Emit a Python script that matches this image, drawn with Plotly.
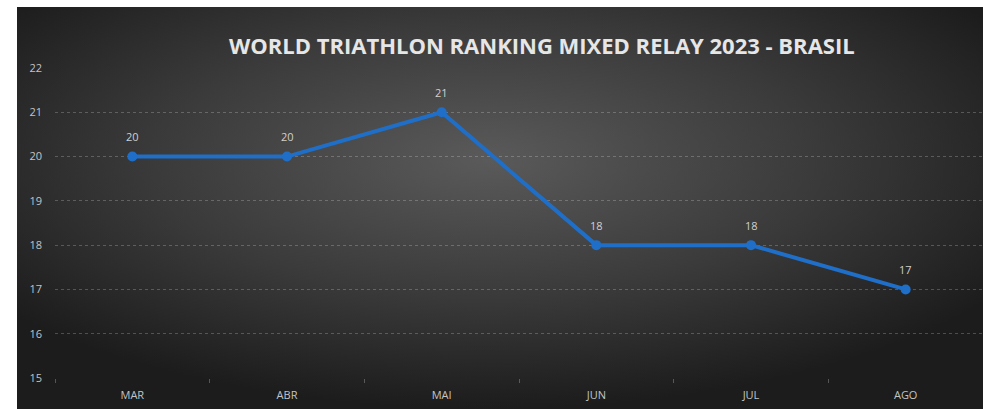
import base64
import plotly.graph_objects as go

months = ["MAR", "ABR", "MAI", "JUN", "JUL", "AGO"]
ranking = [20, 20, 21, 18, 18, 17]
title_text = "WORLD TRIATHLON RANKING MIXED RELAY 2023 - BRASIL"

# dark radial background like the Excel "style" chart
svg = """<svg xmlns='http://www.w3.org/2000/svg' width='980' height='402' preserveAspectRatio='none'>
<defs><radialGradient id='g' cx='0.48' cy='0.38' r='0.62'>
<stop offset='0' stop-color='#5a5a5a'/>
<stop offset='0.55' stop-color='#3a3a3a'/>
<stop offset='1' stop-color='#1c1c1c'/>
</radialGradient></defs>
<rect width='980' height='402' fill='url(#g)'/></svg>"""
bg = "data:image/svg+xml;base64," + base64.b64encode(svg.encode()).decode()

W, H = 983, 409
left, right, top, bottom = 55, 0, 68, 31
pw = W - left - right
ph = H - top - bottom
blue = "#1f6fc9"

fig = go.Figure()
fig.add_trace(go.Scatter(
    x=months, y=ranking, mode="lines+markers",
    line=dict(color=blue, width=4),
    marker=dict(color=blue, size=10),
    cliponaxis=False, showlegend=False,
))

for m, v in zip(months, ranking):
    fig.add_annotation(
        x=m, y=v, text=str(v), showarrow=False, yshift=20,
        font=dict(family="Open Sans", size=11, color="#d0d0d0"),
    )

fig.add_layout_image(dict(
    source=bg, xref="paper", yref="paper",
    x=(17 - left) / pw, y=(H - bottom - 7) / ph,
    sizex=980 / pw, sizey=402 / ph,
    sizing="stretch", xanchor="left", yanchor="top", layer="below",
))

# white frame on the left and top of the chart
fig.add_shape(type="rect", xref="paper", yref="paper", layer="below",
              x0=-left / pw, x1=(17 - left) / pw, y0=-bottom / ph, y1=(H - bottom) / ph,
              fillcolor="white", line_width=0)
fig.add_shape(type="rect", xref="paper", yref="paper", layer="below",
              x0=-left / pw, x1=1.05, y0=(H - bottom - 7) / ph, y1=(H - bottom) / ph,
              fillcolor="white", line_width=0)

fig.add_annotation(
    text="<b>" + title_text + "</b>", xref="paper", yref="paper",
    x=(542 - left) / pw, y=(H - bottom - 45) / ph, showarrow=False,
    xanchor="center", yanchor="middle",
    font=dict(family="Open Sans", size=22, color="#e6e6e6"),
)

fig.update_layout(
    width=W, height=H,
    margin=dict(l=left, r=right, t=top, b=bottom),
    paper_bgcolor="#1c1c1c", plot_bgcolor="rgba(0,0,0,0)",
    xaxis=dict(
        range=[-0.5, 5.5], showgrid=False, zeroline=False,
        tickfont=dict(family="Open Sans", size=11, color="#c4c4c4"),
        ticks="outside", tickson="boundaries", ticklen=4,
        tickcolor="rgba(255,255,255,0.25)", ticklabelstandoff=9,
        showline=False,
    ),
    yaxis=dict(
        range=[15, 22], dtick=1, zeroline=False,
        showgrid=True, gridcolor="rgba(255,255,255,0.22)", griddash="dot", gridwidth=1,
        tickfont=dict(family="Open Sans", size=11, color="#c4c4c4"),
        ticklabelstandoff=12,
    ),
)

# page background dark too, in case the window is a little larger than the figure
page_css = ("document.body.style.margin='0';document.body.style.overflow='hidden';"
            "document.body.style.background='#1c1c1c';"
            "document.documentElement.style.background='#1c1c1c';")
fig.write_html("out.html", config={"displayModeBar": False}, post_script=page_css)
